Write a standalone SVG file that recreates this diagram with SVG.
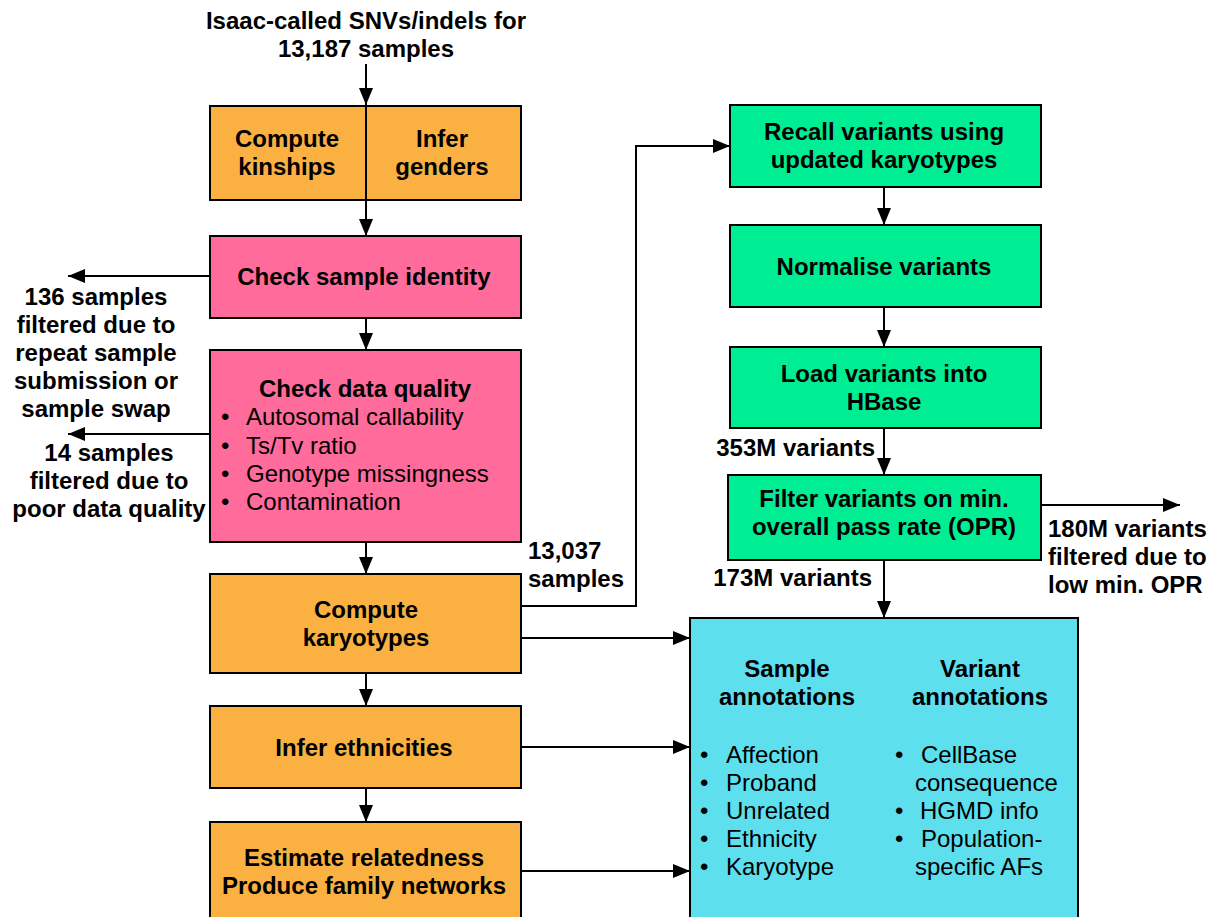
<svg xmlns="http://www.w3.org/2000/svg" width="1217" height="917" viewBox="0 0 1217 917">
<style>
.or{fill:#FAB142;stroke:#000;stroke-width:2}
.pk{fill:#FF6B9B;stroke:#000;stroke-width:2}
.gr{fill:#00EE93;stroke:#000;stroke-width:2}
.cy{fill:#5DDFEE;stroke:#000;stroke-width:2}
text{font-family:"Liberation Sans",Arial,sans-serif;font-size:24px;fill:#000}
.t{font-weight:bold}
.c{text-anchor:middle}
.e{text-anchor:end}
.ln{fill:none;stroke:#000;stroke-width:2}
</style>
<defs>
<marker id="ah" viewBox="0 0 17 14" refX="17" refY="7" markerWidth="17" markerHeight="14" markerUnits="userSpaceOnUse" orient="auto">
<path d="M0,0 L17,7 L0,14 Z" fill="#000"/>
</marker>
</defs>

<g id="connectors">
<line class="ln" x1="366" y1="64" x2="366" y2="105" marker-end="url(#ah)"/>
<line class="ln" x1="366" y1="200" x2="366" y2="236" marker-end="url(#ah)"/>
<line class="ln" x1="366" y1="318" x2="366" y2="350" marker-end="url(#ah)"/>
<line class="ln" x1="366" y1="542" x2="366" y2="574" marker-end="url(#ah)"/>
<line class="ln" x1="366" y1="673" x2="366" y2="706" marker-end="url(#ah)"/>
<line class="ln" x1="366" y1="788" x2="366" y2="822" marker-end="url(#ah)"/>
<line class="ln" x1="210" y1="276" x2="68" y2="276" marker-end="url(#ah)"/>
<line class="ln" x1="210" y1="434" x2="68" y2="434" marker-end="url(#ah)"/>
<line class="ln" x1="521" y1="638" x2="690" y2="638" marker-end="url(#ah)"/>
<line class="ln" x1="521" y1="747" x2="690" y2="747" marker-end="url(#ah)"/>
<line class="ln" x1="521" y1="871" x2="690" y2="871" marker-end="url(#ah)"/>
<polyline class="ln" points="521,606 636,606 636,146 730,146" marker-end="url(#ah)"/>
<line class="ln" x1="884" y1="187" x2="884" y2="225" marker-end="url(#ah)"/>
<line class="ln" x1="884" y1="307" x2="884" y2="347" marker-end="url(#ah)"/>
<line class="ln" x1="884" y1="428" x2="884" y2="475" marker-end="url(#ah)"/>
<line class="ln" x1="884" y1="560" x2="884" y2="618" marker-end="url(#ah)"/>
<line class="ln" x1="1041" y1="505" x2="1180" y2="505" marker-end="url(#ah)"/>
</g>

<g id="input">
<text class="t c" x="366" y="29">Isaac-called SNVs/indels for</text>
<text class="t c" x="366" y="57">13,187 samples</text>
</g>

<g id="kinship-gender">
<rect class="or" x="210" y="106" width="311" height="94"/>
<line class="ln" x1="366" y1="106" x2="366" y2="200"/>
<text class="t c" x="287" y="147">Compute</text>
<text class="t c" x="287" y="175">kinships</text>
<text class="t c" x="442" y="147">Infer</text>
<text class="t c" x="442" y="175">genders</text>
</g>

<g id="identity">
<rect class="pk" x="210" y="236" width="311" height="82"/>
<text class="t c" x="364" y="285">Check sample identity</text>
</g>

<g id="identity-filter">
<text class="t c" x="96" y="305">136 samples</text>
<text class="t c" x="96" y="333">filtered due to</text>
<text class="t c" x="96" y="361">repeat sample</text>
<text class="t c" x="96" y="389">submission or</text>
<text class="t c" x="96" y="417">sample swap</text>
</g>

<g id="quality">
<rect class="pk" x="210" y="350" width="311" height="192"/>
<text class="t c" x="365" y="397">Check data quality</text>
<text x="221" y="425">•</text><text x="246" y="425">Autosomal callability</text>
<text x="221" y="454">•</text><text x="246" y="454">Ts/Tv ratio</text>
<text x="221" y="482">•</text><text x="246" y="482">Genotype missingness</text>
<text x="221" y="510">•</text><text x="246" y="510">Contamination</text>
</g>

<g id="quality-filter">
<text class="t c" x="109" y="461">14 samples</text>
<text class="t c" x="109" y="489">filtered due to</text>
<text class="t c" x="109" y="517">poor data quality</text>
</g>

<g id="karyotypes">
<rect class="or" x="210" y="574" width="311" height="99"/>
<text class="t c" x="366" y="618">Compute</text>
<text class="t c" x="366" y="646">karyotypes</text>
</g>

<g id="samples-label">
<text class="t" x="528" y="559">13,037</text>
<text class="t" x="528" y="587">samples</text>
</g>

<g id="ethnicities">
<rect class="or" x="210" y="706" width="311" height="82"/>
<text class="t c" x="364" y="756">Infer ethnicities</text>
</g>

<g id="relatedness">
<rect class="or" x="210" y="822" width="311" height="96"/>
<text class="t c" x="364" y="866">Estimate relatedness</text>
<text class="t c" x="364" y="894">Produce family networks</text>
</g>

<g id="recall">
<rect class="gr" x="730" y="105" width="311" height="82"/>
<text class="t c" x="884" y="140">Recall variants using</text>
<text class="t c" x="884" y="168">updated karyotypes</text>
</g>

<g id="normalise">
<rect class="gr" x="730" y="225" width="311" height="82"/>
<text class="t c" x="884" y="275">Normalise variants</text>
</g>

<g id="hbase">
<rect class="gr" x="730" y="347" width="311" height="81"/>
<text class="t c" x="884" y="382">Load variants into</text>
<text class="t c" x="884" y="410">HBase</text>
</g>

<g id="label-353">
<text class="t e" x="875" y="456">353M variants</text>
</g>

<g id="filter-opr">
<rect class="gr" x="728" y="475" width="313" height="85"/>
<text class="t c" x="884" y="507">Filter variants on min.</text>
<text class="t c" x="884" y="535">overall pass rate (OPR)</text>
</g>

<g id="label-173">
<text class="t e" x="872" y="586">173M variants</text>
</g>

<g id="opr-filter">
<text class="t" x="1048" y="537">180M variants</text>
<text class="t" x="1048" y="565">filtered due to</text>
<text class="t" x="1048" y="593">low min. OPR</text>
</g>

<g id="annotations">
<rect class="cy" x="690" y="618" width="388" height="300"/>
<text class="t c" x="787" y="677">Sample</text>
<text class="t c" x="787" y="705">annotations</text>
<text class="t c" x="980" y="677">Variant</text>
<text class="t c" x="980" y="705">annotations</text>
<text x="700" y="763">•</text><text x="726" y="763">Affection</text>
<text x="700" y="791">•</text><text x="726" y="791">Proband</text>
<text x="700" y="819">•</text><text x="726" y="819">Unrelated</text>
<text x="700" y="847">•</text><text x="726" y="847">Ethnicity</text>
<text x="700" y="875">•</text><text x="726" y="875">Karyotype</text>
<text x="895" y="763">•</text><text x="921" y="763">CellBase</text>
<text x="915" y="791">consequence</text>
<text x="895" y="819">•</text><text x="920" y="819">HGMD info</text>
<text x="895" y="847">•</text><text x="921" y="847">Population-</text>
<text x="915" y="875">specific AFs</text>
</g>
</svg>
